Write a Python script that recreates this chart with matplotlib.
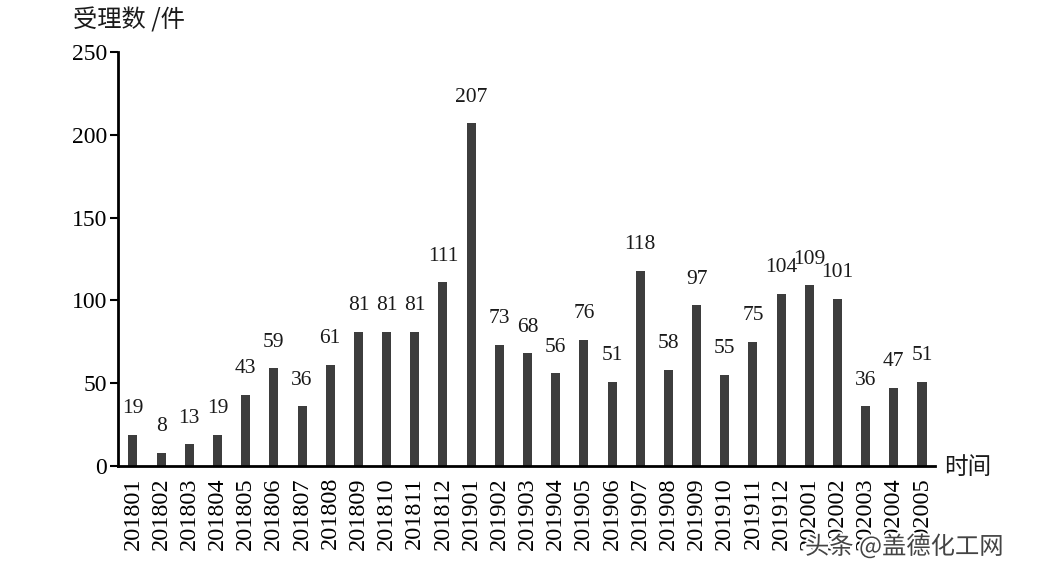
import numpy as np
import matplotlib.pyplot as plt
import matplotlib.patheffects as pe

months = ['201801', '201802', '201803', '201804', '201805', '201806', '201807',
          '201808', '201809', '201810', '201811', '201812', '201901', '201902',
          '201903', '201904', '201905', '201906', '201907', '201908', '201909',
          '201910', '201911', '201912', '202001', '202002', '202003', '202004',
          '202005']
counts = [19, 8, 13, 19, 43, 59, 36, 61, 81, 81, 81, 111, 207, 73, 68, 56, 76,
          51, 118, 58, 97, 55, 75, 104, 109, 101, 36, 47, 51]
yticks = [0, 50, 100, 150, 200, 250]

serif = ['Liberation Serif', 'DejaVu Serif']
cjk = ['Noto Sans CJK SC', 'DejaVu Sans']

fig = plt.figure(figsize=(10.37, 5.76), dpi=100)
ax = fig.add_axes([0.1138, 0.191, 0.7878, 0.7187])

x = np.arange(len(counts))
ax.bar(x, counts, width=0.32, color='#3d3d3d')

# value labels above the bars
for xi, v in zip(x, counts):
    ax.annotate(str(v), (xi, v), xytext=(0, 12), textcoords='offset points',
                ha='center', va='bottom', fontsize=15.5, family=serif, color='#1a1a1a')

ax.set_xlim(-0.53, 28.46)
ax.set_ylim(0, 250)
ax.set_yticks(yticks)
ax.set_yticklabels([str(t) for t in yticks], family=serif, fontsize=17)
ax.set_xticks(x)
ax.set_xticklabels(months, rotation=90, family=serif, fontsize=17.5)
ax.tick_params(axis='x', length=0, pad=8)
ax.tick_params(axis='y', length=6, width=1.5, pad=2)

for s in ['top', 'right']:
    ax.spines[s].set_visible(False)
ax.spines['left'].set_linewidth(2)
ax.spines['bottom'].set_linewidth(2)

fig.text(73 / 1037, 1 - 20 / 576, '受理数 /件', family=cjk, fontsize=17.5,
         ha='left', va='center', color='#1a1a1a')
fig.text(944 / 1037, 1 - 467 / 576, '时间', family=cjk, fontsize=17,
         ha='left', va='center', color='#1a1a1a')

# watermark
fig.text(805 / 1037, 1 - 547 / 576, '头条 @盖德化工网', family=cjk, fontsize=17.5,
         ha='left', va='center', color='#444444',
         path_effects=[pe.withStroke(linewidth=3, foreground='white')])

fig.savefig('out.png', dpi=100)
